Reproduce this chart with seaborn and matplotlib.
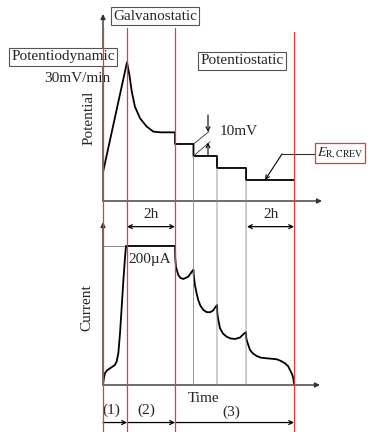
import matplotlib
matplotlib.use("Agg")
import matplotlib.pyplot as plt
import matplotlib.transforms as mtransforms
from matplotlib.patches import ConnectionPatch
import seaborn as sns

# time in hours, potential in mV (relative), current in uA
phase_bounds = [0, 1.0, 3.0, 7.96]
step_times = [3.77, 4.75, 5.96]
step_levels = [37.5, 27.5, 17.5]

t_pot = [0, 1.0, 1.1, 1.2, 1.33, 1.54, 1.82, 2.1, 2.4, 3.0, 3.0, 3.77, 3.77,
         4.75, 4.75, 5.96, 5.96, 7.96]
e_pot = [24, 115.6, 105, 91, 78.6, 69, 62, 57.8, 57.2, 57.2, 47.5, 47.5, 37.5,
         37.5, 27.5, 27.5, 17.5, 17.5]

t_cur = [0, 0.04, 0.08, 0.17, 0.29, 0.42, 0.5, 0.57, 0.64, 0.71, 0.78, 0.85,
         0.92, 0.96, 1.0, 3.0,
         3.01, 3.04, 3.14, 3.23, 3.35, 3.55, 3.70, 3.77,
         3.78, 3.83, 3.90, 3.97, 4.06, 4.18, 4.31, 4.46, 4.58, 4.70, 4.75,
         4.76, 4.79, 4.875, 5.0, 5.15, 5.31, 5.5, 5.71, 5.89, 5.96,
         5.97, 6.0, 6.125, 6.25, 6.4, 6.58, 6.82, 7.02, 7.24, 7.42, 7.58,
         7.71, 7.79, 7.875, 7.93, 7.96]
i_cur = [1, 10, 17, 21, 24, 27, 29, 34, 46, 75, 113, 151,
         185, 200, 200, 200,
         183, 170, 158, 154, 152.5, 155.8, 163, 166,
         158, 144, 132, 122, 114, 108, 105, 104.6, 107, 112.7, 115,
         105, 96.4, 81.6, 74, 69.5, 67, 66.2, 68.3, 74.4, 76,
         67.6, 63, 50.4, 45.3, 41.7, 39.3, 38.4, 37.8, 37, 34.5, 31.2,
         27.3, 21.6, 15.8, 9.6, 1.4]

i_set = 200
e_label = r"$E_{\rm R,CREV}$"

sns.set_style("white")
plt.rcParams['font.family'] = ['Liberation Serif', 'DejaVu Serif']
plt.rcParams['mathtext.fontset'] = 'stix'

fig = plt.figure(figsize=(3.7, 4.32), dpi=100)
W, H = 370, 432
ax_top = fig.add_axes([103 / W, 1 - 201 / H, 240 / W, 187 / H])
ax_bot = fig.add_axes([103 / W, 1 - 385 / H, 240 / W, 163 / H])
ax_top.set_xlim(0, 10)
ax_top.set_ylim(0, 155.8)
ax_bot.set_xlim(0, 10)
ax_bot.set_ylim(0, 234.5)
for ax in (ax_top, ax_bot):
    ax.axis('off')

axc = '#333333'
fs = 11
arr = dict(arrowstyle='-|>', color=axc, lw=1.0, mutation_scale=7, shrinkA=0, shrinkB=0)

# axes arrows
ax_top.annotate('', xy=(0, 155.8), xytext=(0, 0), arrowprops=arr, annotation_clip=False)
ax_top.annotate('', xy=(9.125, 0), xytext=(0, 0), arrowprops=arr, annotation_clip=False)
ax_bot.annotate('', xy=(0, 234.5), xytext=(0, 0), arrowprops=arr, annotation_clip=False)
ax_bot.annotate('', xy=(9.04, 0), xytext=(0, 0), arrowprops=arr, annotation_clip=False)

# gray guide lines
ax_bot.plot([0, phase_bounds[1]], [i_set, i_set], color='#777777', lw=0.6)
for t, lev in zip(step_times, step_levels):
    con = ConnectionPatch(xyA=(t, lev), coordsA=ax_top.transData,
                          xyB=(t, 0), coordsB=ax_bot.transData,
                          color='#888888', lw=0.6)
    fig.add_artist(con)

# curves
sns.lineplot(x=t_pot, y=e_pot, ax=ax_top, color='black', lw=1.3,
             sort=False, estimator=None)
sns.lineplot(x=t_cur, y=i_cur, ax=ax_bot, color='black', lw=1.3,
             sort=False, estimator=None)

# red phase boundaries
tr = mtransforms.blended_transform_factory(ax_top.transData, fig.transFigure)
tops = [1 - 28 / H, 1 - 28 / H, 1 - 28 / H, 1 - 32 / H]
for t, yt in zip(phase_bounds, tops):
    fig.add_artist(plt.Line2D([t, t], [0, yt], transform=tr, color='#e5393b', lw=0.9))

# labels
box = dict(boxstyle='square,pad=0.15', fc='white', ec='#555555', lw=0.8)
ax_top.text(2.17, 154, 'Galvanostatic', fontsize=fs, ha='center', va='center', bbox=box)
ax_top.text(-1.67, 120, 'Potentiodynamic', fontsize=fs, ha='center', va='center', bbox=box)
ax_top.text(0.29, 101.7, '30mV/min', fontsize=fs, ha='right', va='center')
ax_top.text(5.79, 116.7, 'Potentiostatic', fontsize=fs, ha='center', va='center', bbox=box)
ax_top.text(-0.58, 69, 'Potential', fontsize=fs, ha='center', va='center', rotation=90)
ax_bot.text(-0.67, 112, 'Current', fontsize=fs, ha='center', va='center', rotation=90)
ax_bot.text(1.95, 180, '200µA', fontsize=fs, ha='center', va='center')

# 10mV dimension
ax_top.plot([3.77, 4.42], [47.5, 57.9], color=axc, lw=0.6)
ax_top.plot([3.77, 4.46], [37.5, 49.4], color=axc, lw=0.6)
small = dict(arrowstyle='->', color='black', lw=0.8, mutation_scale=7, shrinkA=0, shrinkB=0)
ax_top.annotate('', xy=(4.375, 57.5), xytext=(4.375, 71.7), arrowprops=small)
ax_top.annotate('', xy=(4.375, 48.6), xytext=(4.375, 37.5), arrowprops=small)
ax_top.text(4.875, 57.5, '10mV', fontsize=fs, ha='left', va='center')

# E_R,CREV callout
ebox = dict(boxstyle='square,pad=0.15', fc='white', ec='#e5393b', lw=0.9)
ax_top.text(10.85, 40, e_label, fontsize=10, ha='right', va='center', bbox=ebox)
ax_top.plot([8.9, 7.46], [39.2, 39.2], color=axc, lw=0.8)
ax_top.annotate('', xy=(6.75, 17.5), xytext=(7.46, 39.2), arrowprops=small)

# 2h spans
dbl = dict(arrowstyle='<->', color='black', lw=0.9, mutation_scale=7, shrinkA=0, shrinkB=0)
for a, b in [(phase_bounds[1], phase_bounds[2]), (6.0, phase_bounds[3])]:
    ax_bot.annotate('', xy=(a, 227.8), xytext=(b, 227.8), arrowprops=dbl, annotation_clip=False)
    ax_bot.text((a + b) / 2, 246, '2h', fontsize=fs, ha='center', va='center')

# phase arrows along the bottom
one = dict(arrowstyle='->', color='black', lw=0.9, mutation_scale=7, shrinkA=0, shrinkB=0)
names = ['(1)', '(2)', '(3)']
for k in range(3):
    a, b = phase_bounds[k], phase_bounds[k + 1]
    ax_bot.annotate('', xy=(b, -54), xytext=(a, -54), arrowprops=one, annotation_clip=False)
ax_bot.text(0.36, -36, names[0], fontsize=fs, ha='center', va='center')
ax_bot.text(1.82, -36, names[1], fontsize=fs, ha='center', va='center')
ax_bot.text(5.36, -39, names[2], fontsize=fs, ha='center', va='center')
ax_bot.text(4.17, -19, 'Time', fontsize=fs, ha='center', va='center')

fig.savefig('out.png', dpi=100)
